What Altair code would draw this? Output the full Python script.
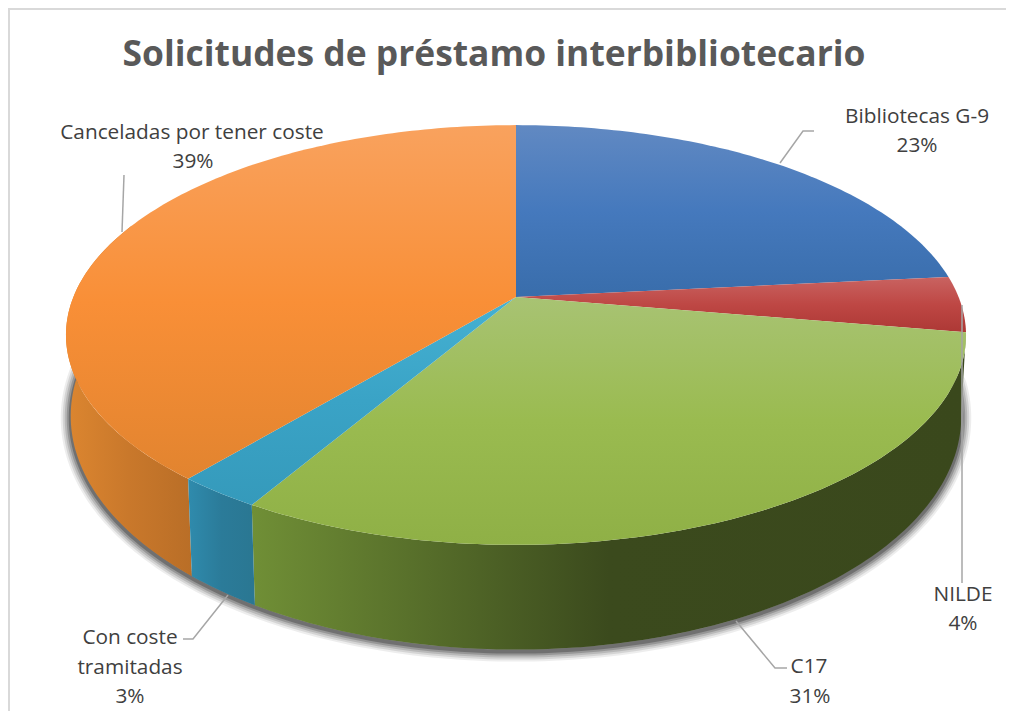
import math
import altair as alt
import pandas as pd

TITLE = "Solicitudes de préstamo interbibliotecario"
names = ["Bibliotecas G-9", "NILDE", "C17", "Con coste tramitadas", "Canceladas por tener coste"]
shares = [23.4, 4.3, 30.7, 2.6, 39.0]

top_stops = [
    ["#6189c2", "#4579bd", "#396dab"],
    ["#c96361", "#be4744", "#ad3835"],
    ["#a8c373", "#9abb50", "#8fb046"],
    ["#45b1d2", "#3aa3c6", "#359abb"],
    ["#f9a25e", "#f98f37", "#e2842f"],
]
wall_stops = [
    ["#3b6aa8", "#3b6aa8", "#3b6aa8"],
    ["#9c3230", "#9c3230", "#9c3230"],
    ["#708f36", "#3b4a1d", "#3a481c"],
    ["#2f8bad", "#2b7b99", "#2a7792"],
    ["#dc8630", "#c9782b", "#b96e27"],
]

label_text = ["Bibliotecas G-9", "23%", "NILDE", "4%", "C17", "31%", "Con coste", "tramitadas", "3%",
              "Canceladas por tener coste", "39%"]
label_x = [917, 917, 963, 963, 809, 810, 130, 130, 130, 192, 193]
label_y = [117, 146, 595, 624, 667, 697, 638, 668, 697, 133, 162]

leader_x = [[780, 803, 814], [124, 122], [228, 193, 183], [736, 775, 787], [962, 962]]
leader_y = [[163, 131, 131], [175, 232], [595, 639, 639], [621, 668, 668], [305, 583]]

CX, TOP_Y, A, C, K = 516, 297, 442.6, 203, 0.181
BOT_Y, BOT_A, BOT_C, BOT_K = 374, 438, 226, 0.18


def top_pt(deg):
    a = math.radians(deg)
    u, v = math.sin(a), math.cos(a)
    d = 1 + K * v
    return CX + A * u / d, TOP_Y - C * v / d


def bot_pt(deg):
    a = math.radians(deg)
    u, v = math.sin(a), math.cos(a)
    d = 1 + BOT_K * v
    return CX + BOT_A * u / d, BOT_Y - BOT_C * v / d


def sweep(a0, a1, step=1.0):
    n = max(2, int(abs(a1 - a0) / step) + 1)
    return [a0 + (a1 - a0) * i / (n - 1) for i in range(n)]


def frame(pts):
    return pd.DataFrame({"x": [p[0] for p in pts], "y": [p[1] for p in pts], "i": range(len(pts))})


X = alt.X("x:Q", scale=alt.Scale(domain=[8, 1006], range=[0, 998], nice=False, zero=False), axis=None)
Y = alt.Y("y:Q", scale=alt.Scale(domain=[711, 8], nice=False, zero=False), axis=None)
O = alt.Order("i:Q")


def grad(colors, horizontal=False):
    stops = [{"color": c, "offset": o} for c, o in zip(colors, [0, 0.5, 1])]
    g = {"gradient": "linear", "stops": stops, "x1": 0, "y1": 0, "x2": 1 if horizontal else 0, "y2": 0 if horizontal else 1}
    return g


def poly(pts, fill):
    return alt.Chart(frame(pts)).mark_line(fill=fill, filled=True, strokeWidth=0, interpolate="linear").encode(x=X, y=Y, order=O)


layers = []

# frame of the picture
layers.append(alt.Chart(frame([(1006, 9), (9, 9), (9, 711)])).mark_line(color="#d9d9d9", strokeWidth=2).encode(x=X, y=Y, order=O))

# soft shadow under the pie
rim = [bot_pt(a) for a in sweep(92, 282)]
rim = [(x, y + 2) for x, y in rim]
for w, op in [(20, 0.07), (16, 0.1), (12, 0.13), (8, 0.18), (4, 0.25)]:
    layers.append(alt.Chart(frame(rim)).mark_line(color="#000000", strokeWidth=w, opacity=op, strokeCap="round").encode(x=X, y=Y, order=O))

# slice angles derive from the shares
edges = [0.0]
for s in shares:
    edges.append(edges[-1] + s * 3.6)

# side walls
for idx in [4, 2, 3]:
    a0, a1 = edges[idx], edges[idx + 1]
    if idx == 4:
        a1 = 292
    arc = sweep(a0, a1)
    pts = [top_pt(a) for a in arc] + [bot_pt(a) for a in reversed(arc)]
    pts.append(pts[0])
    layers.append(poly(pts, grad(wall_stops[idx], True)))

# top faces
for idx in range(5):
    arc = sweep(edges[idx], edges[idx + 1])
    pts = [(CX, TOP_Y)] + [top_pt(a) for a in arc] + [(CX, TOP_Y)]
    layers.append(poly(pts, grad(top_stops[idx])))

# leader lines
for lx, ly in zip(leader_x, leader_y):
    layers.append(alt.Chart(frame(list(zip(lx, ly)))).mark_line(color="#a6a6a6", strokeWidth=1.5).encode(x=X, y=Y, order=O))

# labels
labels = pd.DataFrame({"x": label_x, "y": label_y, "t": label_text})
layers.append(alt.Chart(labels).mark_text(font="Open Sans", fontSize=20.8, color="#404040", align="center", baseline="middle").encode(x=X, y=Y, text="t:N"))

title = pd.DataFrame({"x": [494], "y": [55], "t": [TITLE]})
layers.append(alt.Chart(title).mark_text(font="Open Sans", fontSize=35.4, fontWeight="bold", color="#595959", align="center", baseline="middle").encode(x=X, y=Y, text="t:N"))

chart = alt.layer(*layers).properties(
    width=998, height=703, padding=0, autosize=alt.AutoSizeParams(type="none"), background="#ffffff"
).configure_view(stroke=None)

chart.save("out.html", embed_options={"renderer": "svg", "actions": False})
